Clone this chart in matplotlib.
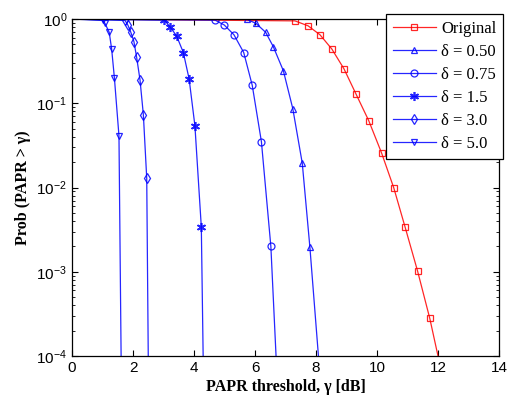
import numpy as np
import matplotlib
matplotlib.use("Agg")
import matplotlib.pyplot as plt
from matplotlib.ticker import LogLocator, NullFormatter

plt.rcParams['font.family'] = ['Liberation Sans', 'DejaVu Sans']
plt.rcParams['mathtext.fontset'] = 'custom'
plt.rcParams['mathtext.rm'] = 'Liberation Sans'
plt.rcParams['mathtext.it'] = 'Liberation Sans:italic'

# values (x in dB, y = probability)
orig_x = [0, 7.31, 7.74, 8.13, 8.52, 8.92, 9.31, 9.73, 10.15, 10.55, 10.92, 11.33, 11.73, 12.0]
orig_y = [1, 0.95, 0.83, 0.65, 0.44, 0.255, 0.129, 0.062, 0.0257, 0.0099, 0.0034, 0.00102, 0.00028, 1e-4]

d050_x = [0, 5.73, 6.03, 6.35, 6.60, 6.93, 7.24, 7.55, 7.80, 8.08]
d050_y = [1, 0.99, 0.889, 0.695, 0.469, 0.243, 0.086, 0.0194, 0.00195, 1e-4]

d075_x = [0, 4.69, 4.99, 5.31, 5.63, 5.91, 6.21, 6.52, 6.69]
d075_y = [1, 0.97, 0.85, 0.65, 0.40, 0.163, 0.035, 0.0020, 1e-4]

d15_x = [0, 3.03, 3.21, 3.43, 3.65, 3.84, 4.03, 4.24, 4.30]
d15_y = [1, 0.97, 0.81, 0.63, 0.40, 0.194, 0.054, 0.0034, 1e-4]

d30_x = [0, 1.74, 1.83, 1.92, 2.03, 2.12, 2.23, 2.34, 2.45, 2.50]
d30_y = [1, 0.96, 0.85, 0.71, 0.54, 0.35, 0.189, 0.073, 0.0129, 1e-4]

d50_x = [0, 1.01, 1.08, 1.22, 1.30, 1.39, 1.54, 1.61]
d50_y = [1, 0.96, 0.89, 0.695, 0.44, 0.20, 0.041, 1e-4]

labels = ["Original", "δ = 0.50", "δ = 0.75", "δ = 1.5", "δ = 3.0", "δ = 5.0"]
xticks = [0, 2, 4, 6, 8, 10, 12, 14]

# asterisk like the MATLAB '*' marker
ASTERISK = (6, 2, 0)

series = [
    (orig_x, orig_y, "red", "s"),
    (d050_x, d050_y, "blue", "^"),
    (d075_x, d075_y, "blue", "o"),
    (d15_x, d15_y, "blue", ASTERISK),
    (d30_x, d30_y, "blue", "d"),
    (d50_x, d50_y, "blue", "v"),
]

fig = plt.figure(figsize=(5.1, 3.96), dpi=100)
ax = fig.add_axes([72 / 510, 40 / 396, 427 / 510, 337 / 396])

for (x, y, c, m), lab in zip(series, labels):
    # markers only on the measured knee points, not on the start/end anchors
    ax.plot(x, y, color=c, lw=0.9, alpha=0.85, marker=m, markevery=list(range(1, len(x) - 1)),
            markersize=5 if m != ASTERISK else 6.5, markerfacecolor="none", markeredgecolor=c,
            markeredgewidth=0.9 if m != ASTERISK else 1.2, label=lab)

ax.set_yscale("log")
ax.set_xlim(0, 14)
ax.set_ylim(1e-4, 1)
ax.set_xticks(xticks)
ax.yaxis.set_minor_locator(LogLocator(base=10, subs=np.arange(2, 10)))
ax.yaxis.set_minor_formatter(NullFormatter())

ax.tick_params(which="both", direction="in", top=True, right=True, labelsize=11)
ax.tick_params(which="major", length=4, width=0.8)
ax.tick_params(which="minor", length=2, width=0.6)
for s in ax.spines.values():
    s.set_linewidth(0.9)

ax.set_xlabel("PAPR threshold, γ [dB]", family="Liberation Serif", weight="bold", fontsize=11.5, labelpad=3)
ax.set_ylabel("Prob (PAPR > γ)", family="Liberation Serif", weight="bold", fontsize=11.5, labelpad=4)

leg = ax.legend(loc="upper right", bbox_to_anchor=(503 / 510, 381.7 / 396), bbox_transform=fig.transFigure,
                prop={"family": "Liberation Serif", "size": 12}, fancybox=False, framealpha=1,
                edgecolor="black", borderaxespad=0, handlelength=2.6, labelspacing=0.42,
                borderpad=0.4, handletextpad=0.3)
leg.get_frame().set_linewidth(0.9)

fig.savefig("out.png", dpi=100)
